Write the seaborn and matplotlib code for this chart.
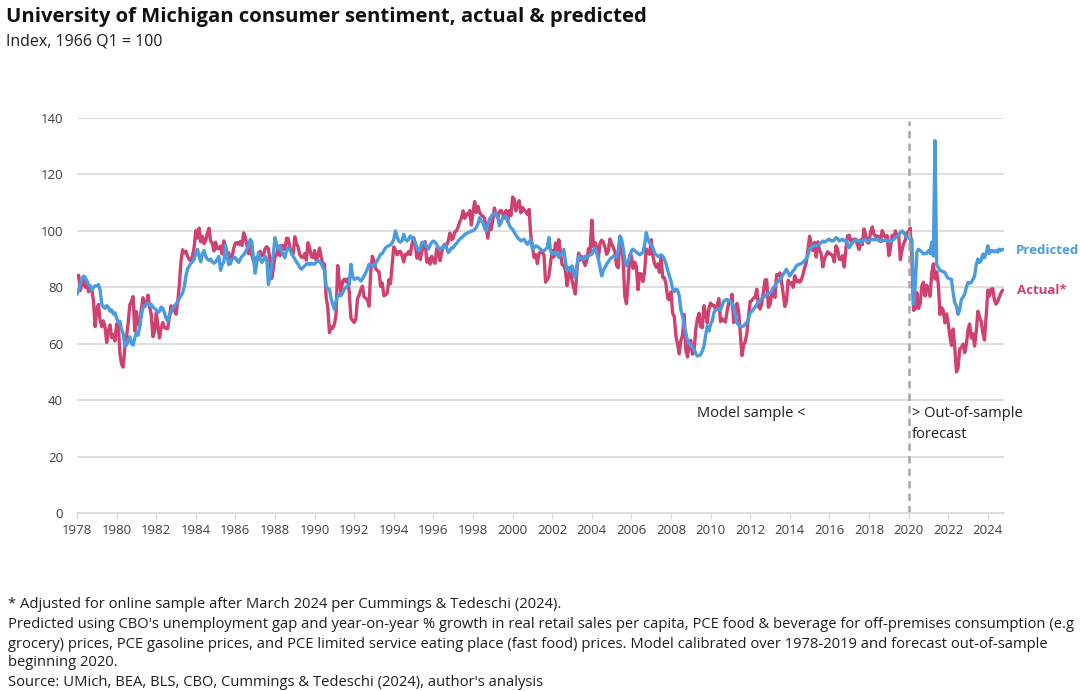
import numpy as np
import pandas as pd
import seaborn as sns
import matplotlib.pyplot as plt

# ---------------- data (monthly, Jan 1978 - Oct 2024) ----------------
start_year = 1978

actual = [
    83.7, 84.3, 78.8, 81.6, 82.9, 80.0, 82.4, 78.4, 80.4, 79.3, 75.0, 66.1,   # 1978
    72.1, 73.9, 68.4, 66.0, 68.1, 65.8, 60.4, 64.5, 66.7, 62.1, 63.3, 61.0,   # 1979
    67.0, 66.9, 56.5, 52.7, 51.7, 58.7, 62.3, 67.3, 73.7, 75.0, 76.7, 64.5,   # 1980
    71.4, 66.9, 66.5, 72.4, 76.3, 73.1, 74.1, 77.2, 73.1, 70.3, 62.5, 64.3,   # 1981
    71.0, 66.5, 62.0, 65.5, 67.5, 65.7, 65.4, 65.4, 69.3, 73.4, 72.1, 71.9,   # 1982
    70.4, 74.6, 80.8, 89.1, 93.3, 92.2, 92.8, 90.9, 89.9, 89.3, 91.1, 94.2,   # 1983
    100.1, 97.4, 101.0, 96.1, 98.1, 95.5, 96.6, 99.1, 100.9, 96.3, 95.7, 92.9,  # 1984
    96.0, 93.7, 93.7, 94.6, 91.8, 96.5, 94.0, 92.4, 92.1, 88.4, 90.9, 93.9,   # 1985
    95.6, 95.9, 95.1, 96.2, 94.8, 99.3, 97.7, 94.9, 91.9, 95.6, 91.4, 89.1,   # 1986
    90.4, 90.2, 90.8, 92.8, 91.1, 91.5, 93.7, 94.4, 93.6, 89.3, 83.1, 86.8,   # 1987
    90.8, 91.6, 94.6, 91.2, 94.8, 94.7, 93.4, 97.4, 97.3, 94.1, 93.0, 91.9,   # 1988
    97.9, 95.4, 94.3, 91.5, 90.7, 90.6, 92.0, 89.6, 95.8, 93.9, 90.9, 90.5,   # 1989
    93.0, 89.5, 91.3, 93.9, 90.6, 88.3, 88.2, 76.4, 72.8, 63.9, 66.0, 65.5,   # 1990
    66.8, 70.4, 87.7, 81.8, 78.3, 82.1, 82.9, 82.0, 83.0, 78.3, 69.1, 68.2,   # 1991
    67.5, 68.8, 76.0, 77.2, 79.2, 80.4, 76.6, 76.1, 75.6, 73.3, 85.3, 91.0,   # 1992
    89.3, 86.6, 85.9, 85.6, 80.3, 81.5, 77.0, 77.3, 77.9, 82.7, 81.2, 88.2,   # 1993
    94.3, 93.2, 91.5, 92.6, 92.8, 91.2, 89.0, 91.7, 91.5, 92.7, 91.6, 95.1,   # 1994
    97.6, 95.1, 90.3, 92.5, 89.8, 92.7, 94.4, 96.2, 88.9, 90.2, 88.2, 91.0,   # 1995
    89.3, 88.5, 93.7, 92.7, 89.4, 92.4, 94.7, 95.3, 94.7, 96.5, 99.2, 96.9,   # 1996
    97.4, 99.7, 100.0, 101.4, 103.2, 104.5, 107.1, 104.4, 106.0, 105.6, 107.2, 102.1,  # 1997
    106.6, 110.4, 106.5, 108.7, 106.5, 105.6, 105.2, 104.4, 100.9, 97.4, 102.7, 100.5,  # 1998
    103.9, 108.1, 105.7, 104.6, 106.8, 107.3, 106.0, 104.5, 107.2, 103.2, 107.2, 105.4,  # 1999
    112.0, 111.3, 107.1, 109.2, 110.7, 106.4, 108.3, 107.3, 106.8, 105.8, 107.6, 98.4,  # 2000
    94.7, 90.6, 91.5, 88.4, 92.0, 92.6, 92.4, 91.5, 81.8, 82.7, 83.9, 88.8,   # 2001
    93.0, 90.7, 95.7, 93.0, 96.9, 92.4, 88.1, 87.6, 86.1, 80.6, 84.2, 86.7,   # 2002
    82.4, 79.9, 77.6, 86.0, 92.1, 89.7, 90.9, 89.3, 87.7, 89.6, 93.7, 92.6,   # 2003
    103.8, 94.4, 95.8, 94.2, 90.2, 95.6, 96.7, 95.9, 94.2, 91.7, 92.8, 97.1,  # 2004
    95.5, 94.1, 92.6, 87.7, 86.9, 96.0, 96.5, 89.1, 76.9, 74.2, 81.6, 91.5,   # 2005
    91.2, 86.7, 88.9, 87.4, 79.1, 84.9, 84.7, 82.0, 85.4, 93.6, 92.1, 91.7,   # 2006
    96.9, 91.3, 88.4, 87.1, 88.3, 85.3, 90.4, 83.4, 83.4, 80.9, 76.1, 75.5,   # 2007
    78.4, 70.8, 69.5, 62.6, 59.8, 56.4, 61.2, 63.0, 70.3, 57.6, 55.3, 60.1,   # 2008
    61.2, 56.3, 57.3, 65.1, 68.7, 70.8, 66.0, 65.7, 73.5, 70.6, 67.4, 72.5,   # 2009
    74.4, 73.6, 73.6, 72.2, 73.6, 76.0, 67.8, 68.9, 68.2, 67.7, 71.6, 74.5,   # 2010
    74.2, 77.5, 67.5, 69.8, 74.3, 71.5, 63.7, 55.8, 59.5, 60.8, 63.7, 69.9,   # 2011
    75.0, 75.3, 76.2, 76.4, 79.3, 73.2, 72.3, 74.3, 78.3, 82.6, 82.7, 72.9,   # 2012
    73.8, 77.6, 78.6, 76.4, 84.5, 84.1, 85.1, 82.1, 77.5, 73.2, 75.1, 82.5,   # 2013
    81.2, 81.6, 80.0, 84.1, 81.9, 82.5, 81.8, 82.5, 84.6, 86.9, 88.8, 93.6,   # 2014
    98.1, 95.4, 93.0, 95.9, 90.7, 96.1, 93.1, 91.9, 87.2, 90.0, 91.3, 92.6,   # 2015
    92.0, 91.7, 91.0, 89.0, 94.7, 93.5, 90.0, 89.8, 91.2, 87.2, 93.8, 98.2,   # 2016
    98.5, 96.3, 96.9, 97.0, 97.1, 95.1, 93.4, 96.8, 95.1, 100.7, 98.5, 95.9,  # 2017
    95.7, 99.7, 101.4, 98.8, 98.0, 98.2, 97.9, 96.2, 100.1, 98.6, 97.5, 98.3,  # 2018
    91.2, 93.8, 98.4, 97.2, 100.0, 98.2, 98.4, 89.8, 93.2, 95.5, 96.8, 99.3,  # 2019
    99.8, 101.0, 89.1, 71.8, 72.3, 78.1, 72.5, 74.1, 80.4, 81.8, 76.9, 80.7,  # 2020
    79.0, 76.8, 84.9, 88.3, 82.9, 85.5, 81.2, 70.3, 72.8, 71.7, 67.4, 70.6,   # 2021
    67.2, 62.8, 59.4, 65.2, 58.4, 50.0, 51.5, 58.2, 58.6, 59.9, 56.8, 59.7,   # 2022
    64.9, 67.0, 62.0, 63.5, 59.2, 64.4, 71.5, 69.4, 67.9, 63.8, 61.3, 69.7,   # 2023
    79.0, 76.9, 79.4, 79.5, 75.5, 74.0, 75.0, 76.5, 78.0, 79.0,               # 2024
]

predicted = [
    77.5, 79.0, 81.0, 83.0, 84.0, 83.5, 82.0, 81.0, 80.5, 79.0, 80.0, 80.5,   # 1978
    80.5, 81.0, 79.0, 74.0, 73.0, 72.5, 73.5, 73.0, 71.5, 72.0, 70.5, 71.0,   # 1979
    69.0, 67.5, 68.0, 65.0, 63.5, 59.0, 59.5, 61.0, 62.5, 60.0, 59.5, 62.0,   # 1980
    64.0, 63.0, 66.0, 70.0, 73.0, 73.5, 74.0, 74.5, 73.5, 74.0, 73.0, 72.5,   # 1981
    72.0, 71.0, 71.5, 73.0, 72.5, 71.0, 69.0, 68.0, 70.0, 71.0, 72.5, 73.5,   # 1982
    74.0, 75.0, 76.0, 77.0, 78.0, 80.0, 84.0, 86.5, 87.5, 88.5, 89.0, 90.0,   # 1983
    92.0, 93.5, 91.0, 89.0, 92.0, 93.0, 91.0, 90.0, 89.5, 90.0, 89.0, 88.5,   # 1984
    89.0, 90.0, 91.0, 86.0, 88.0, 89.0, 95.0, 91.0, 88.0, 89.0, 90.0, 90.5,   # 1985
    90.5, 89.5, 88.8, 90.0, 91.0, 91.5, 92.5, 93.5, 94.7, 97.0, 96.0, 90.0,   # 1986
    85.0, 89.0, 92.3, 90.0, 88.8, 89.5, 91.0, 90.0, 81.0, 84.0, 87.6, 92.0,   # 1987
    97.6, 95.0, 93.5, 94.7, 93.0, 91.5, 90.5, 93.0, 94.0, 93.5, 92.0, 91.0,   # 1988
    90.0, 89.0, 88.2, 87.0, 86.4, 87.0, 87.6, 88.2, 88.5, 88.0, 88.5, 88.2,   # 1989
    88.2, 89.0, 89.5, 89.0, 88.5, 87.0, 86.0, 80.2, 79.5, 79.3, 76.0, 74.0,   # 1990
    72.2, 75.0, 76.9, 77.5, 77.0, 78.0, 79.3, 80.0, 80.5, 81.0, 88.2, 84.0,   # 1991
    82.8, 83.0, 83.4, 83.0, 82.2, 83.0, 84.0, 85.2, 86.5, 88.2, 88.0, 87.6,   # 1992
    87.6, 88.5, 89.5, 90.5, 91.7, 92.0, 93.0, 94.0, 94.5, 94.7, 95.0, 95.8,   # 1993
    97.0, 100.0, 98.0, 96.4, 96.0, 96.5, 98.8, 97.0, 96.4, 97.0, 98.2, 97.5,  # 1994
    97.0, 96.0, 94.0, 92.9, 93.5, 95.8, 96.0, 95.2, 94.5, 93.5, 95.0, 96.0,   # 1995
    96.4, 96.0, 95.2, 94.0, 93.5, 94.0, 94.0, 95.2, 94.0, 92.3, 93.0, 94.0,   # 1996
    94.0, 95.0, 95.5, 96.4, 97.0, 97.6, 98.0, 98.8, 99.0, 99.4, 99.6, 100.0,  # 1997
    100.0, 100.5, 101.2, 102.5, 104.7, 103.5, 103.0, 101.0, 100.0, 102.0, 104.1, 105.0,  # 1998
    105.9, 106.0, 106.5, 105.0, 101.8, 103.0, 104.7, 105.0, 105.3, 104.0, 102.0, 101.0,  # 1999
    100.6, 99.5, 98.5, 97.6, 97.0, 96.4, 96.8, 97.0, 96.0, 95.2, 96.0, 97.0,  # 2000
    93.5, 94.0, 94.7, 94.5, 94.0, 93.5, 93.0, 92.9, 93.5, 94.0, 97.6, 93.0,   # 2001
    91.7, 92.0, 92.5, 92.0, 90.5, 91.5, 92.0, 93.5, 89.0, 86.0, 87.0, 85.8,   # 2002
    87.6, 85.0, 83.4, 88.0, 91.0, 90.5, 90.0, 90.0, 91.0, 90.5, 91.0, 91.5,   # 2003
    91.7, 93.0, 94.0, 92.0, 90.0, 87.0, 84.0, 86.0, 87.0, 88.2, 89.0, 90.0,   # 2004
    90.5, 91.0, 91.0, 90.5, 93.0, 98.2, 97.0, 94.0, 90.0, 87.6, 89.0, 90.5,   # 2005
    93.0, 93.5, 93.0, 92.5, 92.0, 91.5, 92.0, 92.3, 95.0, 99.4, 97.0, 95.8,   # 2006
    95.0, 94.0, 92.3, 91.5, 91.0, 91.0, 91.5, 91.0, 90.0, 88.2, 86.0, 84.0,   # 2007
    82.2, 79.5, 78.5, 79.3, 79.0, 77.0, 72.0, 69.8, 66.0, 63.9, 61.0, 60.4,   # 2008
    59.2, 59.0, 58.0, 56.5, 55.6, 55.8, 56.2, 57.5, 59.2, 63.0, 66.3, 64.5,   # 2009
    66.9, 68.0, 71.0, 72.0, 72.2, 72.5, 72.0, 73.5, 75.1, 75.5, 75.7, 75.1,   # 2010
    75.1, 74.0, 73.4, 70.0, 67.5, 66.5, 66.3, 66.0, 66.3, 67.0, 67.5, 69.0,   # 2011
    71.0, 71.5, 72.2, 73.0, 74.0, 75.0, 75.7, 76.0, 76.3, 77.0, 77.5, 77.8,   # 2012
    78.0, 78.5, 79.9, 80.5, 81.7, 82.0, 82.8, 83.5, 84.6, 85.5, 86.4, 85.0,   # 2013
    84.0, 85.0, 85.8, 86.5, 87.6, 88.0, 88.2, 88.5, 88.8, 89.5, 90.0, 91.5,   # 2014
    93.5, 94.0, 94.7, 94.7, 94.7, 95.0, 95.3, 95.8, 96.4, 96.0, 96.4, 96.8,   # 2015
    97.0, 96.5, 96.4, 96.8, 97.6, 97.2, 96.4, 96.8, 97.0, 96.4, 96.8, 95.5,   # 2016
    94.0, 95.0, 95.8, 96.4, 96.8, 96.5, 96.4, 95.8, 96.4, 97.0, 96.8, 96.4,   # 2017
    96.4, 96.8, 97.0, 96.8, 97.0, 97.0, 96.4, 96.8, 96.4, 96.5, 96.8, 96.4,   # 2018
    96.4, 96.2, 96.5, 97.0, 97.6, 98.0, 98.5, 99.4, 100.0, 99.4, 98.5, 97.6,  # 2019
    97.6, 97.0, 97.0, 74.0, 80.4, 92.4, 93.5, 93.0, 92.5, 91.8, 92.0, 92.0,   # 2020
    93.0, 92.0, 96.0, 91.0, 132.0, 88.0, 87.0, 86.0, 85.8, 85.5, 85.3, 84.0,  # 2021
    83.2, 83.0, 82.8, 78.0, 74.5, 73.3, 70.4, 72.0, 75.7, 76.5, 77.5, 80.0,   # 2022
    81.7, 81.5, 81.7, 82.8, 84.0, 88.0, 90.0, 88.8, 89.5, 91.8, 90.5, 92.0,   # 2023
    94.7, 92.0, 93.0, 93.0, 92.5, 93.0, 92.5, 93.5, 93.0, 93.5,               # 2024
]

year_ticks = list(range(1978, 2025, 2))
y_ticks = [0, 20, 40, 60, 80, 100, 120, 140]
forecast_start = 2020.0

months = np.arange(len(actual))
df = pd.DataFrame({
    "t": start_year + months / 12.0,
    "Actual*": actual,
    "Predicted": predicted,
})

# ---------------- styling ----------------
sns.set_theme(style="white")
plt.rcParams['font.family'] = ['Open Sans', 'DejaVu Sans']

BLUE = "#4A9BE0"
RED = "#CF4170"
GRID = "#D9D9D9"
TXT = "#1E1E1E"
TICK = "#404040"

W, H = 1080, 691
fig = plt.figure(figsize=(W / 100, H / 100), dpi=100)
ax = fig.add_axes([77 / W, 1 - 513 / H, (1004 - 77) / W, (513 - 118) / H])

sns.lineplot(data=df, x="t", y="Actual*", color=RED, linewidth=2.4, ax=ax)
sns.lineplot(data=df, x="t", y="Predicted", color=BLUE, linewidth=2.4, ax=ax)

ax.set_xlim(1978.0, 1978 + (1004 - 77) / 19.8)
ax.set_ylim(0, 140)
ax.set_yticks(y_ticks)
ax.set_yticklabels([str(v) for v in y_ticks])
ax.set_xticks(year_ticks)
ax.set_xticklabels([str(y) for y in year_ticks])
ax.set_xlabel("")
ax.set_ylabel("")

ax.yaxis.grid(True, color=GRID, linewidth=1.2)
ax.xaxis.grid(False)
ax.set_axisbelow(True)
for s in ["top", "right", "left"]:
    ax.spines[s].set_visible(False)
ax.spines["bottom"].set_color(GRID)
ax.spines["bottom"].set_linewidth(1.2)

ax.tick_params(axis="x", length=4, width=1, color=GRID, direction="out",
               labelsize=9.5, labelcolor=TICK, pad=4, bottom=True)
ax.tick_params(axis="y", length=0, labelsize=9.5, labelcolor=TICK, pad=10)

# forecast divider
ax.axvline(forecast_start, ymin=0, ymax=(513 - 121) / (513 - 118), color="#A6A6A6",
           linestyle=(0, (3, 2)), linewidth=1.8)

ax.text(2014.8, 35.1, "Model sample <", ha="right", va="center", fontsize=10.5, color=TXT)
ax.text(2020.17, 35.1, "> Out-of-sample", ha="left", va="center", fontsize=10.5, color=TXT)
ax.text(2020.17, 28.0, "forecast", ha="left", va="center", fontsize=10.5, color=TXT)

# series labels
ax.text(2025.4, 92.9, "Predicted", ha="left", va="center", fontsize=9.5, color=BLUE,
        fontweight="bold", clip_on=False)
ax.text(2025.45, 78.7, "Actual*", ha="left", va="center", fontsize=9.5, color=RED,
        fontweight="bold", clip_on=False)

# titles
fig.text(6 / W, 1 - 17 / H, "University of Michigan consumer sentiment, actual & predicted",
         ha="left", va="center", fontsize=14.6, fontweight="bold", color="#111111")
fig.text(6 / W, 1 - 41 / H, "Index, 1966 Q1 = 100", ha="left", va="center",
         fontsize=11.5, color=TXT)

notes = [
    (604, "* Adjusted for online sample after March 2024 per Cummings & Tedeschi (2024)."),
    (624, "Predicted using CBO's unemployment gap and year-on-year % growth in real retail sales per capita, PCE food & beverage for off-premises consumption (e.g"),
    (644, "grocery) prices, PCE gasoline prices, and PCE limited service eating place (fast food) prices. Model calibrated over 1978-2019 and forecast out-of-sample"),
    (663, "beginning 2020."),
    (683, "Source: UMich, BEA, BLS, CBO, Cummings & Tedeschi (2024), author's analysis"),
]
for ypx, t in notes:
    fig.text(8 / W, 1 - ypx / H, t, ha="left", va="center", fontsize=10.6, color=TXT)

fig.savefig("out.png", dpi=100, facecolor="white")
